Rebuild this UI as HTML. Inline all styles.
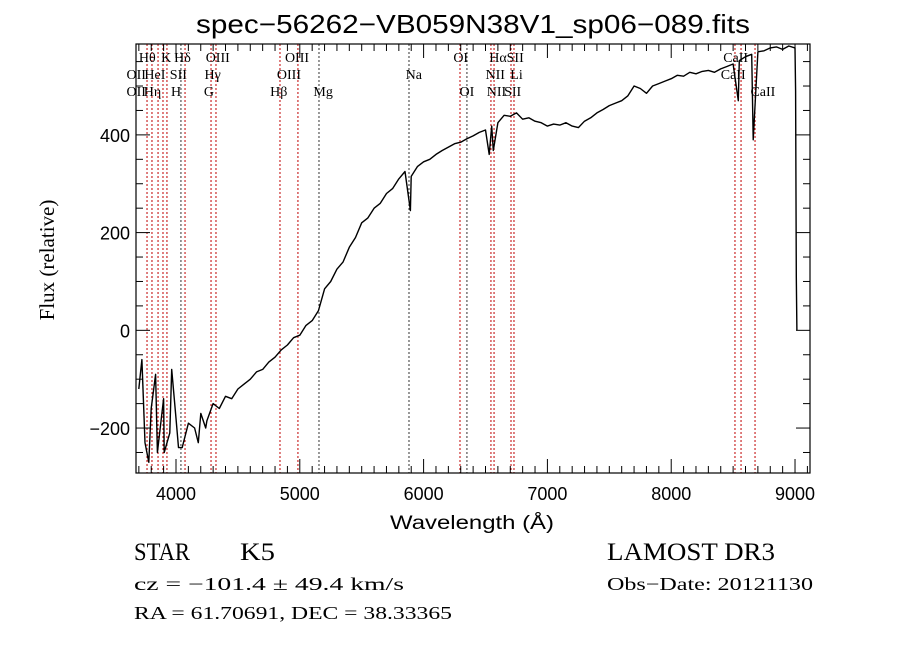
<!DOCTYPE html>
<html><head><meta charset="utf-8"><style>
html,body{margin:0;padding:0;background:#fff;}
svg{display:block;}
.t{font-family:"Liberation Sans",sans-serif;fill:#000;}
.s{font-family:"Liberation Serif",serif;fill:#000;}
</style></head><body>
<svg id="chart" width="900" height="649" viewBox="0 0 900 649" xmlns="http://www.w3.org/2000/svg">
<rect width="900" height="649" fill="#fff"/>
<text class="t" x="196" y="33" font-size="26" textLength="554" lengthAdjust="spacingAndGlyphs">spec−56262−VB059N38V1_sp06−089.fits</text>
<g id="lines"></g>
<g id="labels" class="s" font-size="14"></g>
<path id="spec" fill="none" stroke="#000" stroke-width="1.4" stroke-linejoin="round"/>
<g id="axes"></g>
<rect x="136" y="44" width="674" height="429" fill="none" stroke="#000" stroke-width="1.2"/>
<text class="t" x="390" y="529" font-size="19" textLength="164" lengthAdjust="spacingAndGlyphs">Wavelength (Å)</text>
<text class="s" x="54" y="260" font-size="21" text-anchor="middle" transform="rotate(-90 54 260)">Flux (relative)</text>
<text class="s" x="134" y="560" font-size="25" textLength="56" lengthAdjust="spacingAndGlyphs">STAR</text>
<text class="s" x="240" y="560" font-size="25" textLength="35" lengthAdjust="spacingAndGlyphs">K5</text>
<text class="s" x="607" y="560" font-size="25" textLength="168" lengthAdjust="spacingAndGlyphs">LAMOST DR3</text>
<text class="s" x="134" y="590" font-size="18" textLength="270" lengthAdjust="spacingAndGlyphs">cz = −101.4 ± 49.4 km/s</text>
<text class="s" x="607" y="590" font-size="18" textLength="206" lengthAdjust="spacingAndGlyphs">Obs−Date: 20121130</text>
<text class="s" x="134" y="619" font-size="18" textLength="318" lengthAdjust="spacingAndGlyphs">RA =  61.70691, DEC =  38.33365</text>
</svg>
<script>
const waveStart = 3700, waveStep = 50;
const flux = [-120,-230,-160,-250,-140,-210,-180,-240,-190,-200,
 -170,-185,-150,-160,-135,-140,-120,-110,-100,-85,-80,-65,-55,-40,-30,-15,-10,10,20,40,
 85,100,125,140,170,190,220,230,250,260,280,290,310,325,315,335,345,350,360,368,
 375,382,385,392,398,405,410,418,425,440,438,445,432,435,428,425,418,422,420,425,
 418,415,428,435,445,452,460,465,470,480,500,495,485,500,505,510,515,522,520,528,
 525,530,532,528,535,540,545,552,560,565,570,572,578,580,575,582,578];
const dipWaves = [3725,3780,3835,3905,3965,4020,4180,4240,5893,6530,6563,8542,8662,9005,9010,9015];
const dipFlux = [-60,-270,-90,-250,-80,-240,-230,-200,245,360,368,470,390,490,110,0];
const lineWaves = [3677,3766,3806,3855,3895,3927,4040,4073,4283,4323,4840,4985,5155,5882,6294,6350,6544,6569,6706,6730,8515,8564,8677];
const lineColors = ['r','r','r','r','r','r','k','r','r','r','r','r','k','k','r','k','r','r','r','r','r','r','r'];
const labelText = ['Hθ','K','Hδ','OIII','OIII','OI','HαSII','CaII','OII','HeI','SII','Hγ','OIII','Na','NII','Li','CaII','OII','Hη','H','G','Hβ','Mg','OI','NII','SII','CaII'];
const labelWave = [3700,3880,3985,4240,4880,6240,6530,8420,3600,3745,3950,4230,4815,5855,6500,6700,8400,3600,3740,3960,4225,4760,5110,6290,6510,6650,8640];
const labelRow = [1,1,1,1,1,1,1,1,2,2,2,2,2,2,2,2,2,3,3,3,3,3,3,3,3,3,3];
const xTicks = [4000,5000,6000,7000,8000,9000];
const yTicks = [-200,0,200,400];

const X0=136,X1=810,Y0=44,Y1=473,WMIN=3677,WMAX=9121,FMIN=-292,FMAX=586;
const xs = w => X0+(w-WMIN)/(WMAX-WMIN)*(X1-X0);
const ys = f => Y1-(f-FMIN)/(FMAX-FMIN)*(Y1-Y0);
const NS='http://www.w3.org/2000/svg';
function mk(tag,attrs,parent){const e=document.createElementNS(NS,tag);for(const k in attrs)e.setAttribute(k,attrs[k]);parent.appendChild(e);return e;}

let pts = flux.map((f,i)=>[waveStart+i*waveStep,f]);
dipWaves.forEach((w,i)=>pts.push([w,dipFlux[i]]));
pts.sort((a,b)=>a[0]-b[0]);
document.getElementById('spec').setAttribute('d',pts.map((p,i)=>(i?'L':'M')+xs(p[0]).toFixed(1)+' '+Math.max(Y0,Math.min(Y1,ys(p[1]))).toFixed(1)).join(''));

const lg=document.getElementById('lines');
lineWaves.forEach((w,i)=>{
 const l=mk('line',{x1:xs(w),x2:xs(w),y1:Y0,y2:Y1,stroke:lineColors[i]==='r'?'#c00000':'#333','stroke-width':1,'stroke-dasharray':'2,2'},lg);
 
 
});
const lb=document.getElementById('labels');
labelText.forEach((t,i)=>{
 const e=mk('text',{x:xs(labelWave[i]),y:45+labelRow[i]*17},lb);
 e.textContent=t;
 
 
});
const ax=document.getElementById('axes');
for(let w=3700;w<=9100;w+=100){
 const major=w%1000===0, len=major?14:7;
 mk('line',{x1:xs(w),x2:xs(w),y1:Y1,y2:Y1-len,stroke:'#000'},ax);
 mk('line',{x1:xs(w),x2:xs(w),y1:Y0,y2:Y0+len,stroke:'#000'},ax);
}
for(let f=-250;f<=550;f+=50){
 const major=f%200===0, len=major?14:7;
 mk('line',{x1:X0,x2:X0+len,y1:ys(f),y2:ys(f),stroke:'#000'},ax);
 mk('line',{x1:X1,x2:X1-len,y1:ys(f),y2:ys(f),stroke:'#000'},ax);
}
xTicks.forEach(v=>{
 const e=mk('text',{x:xs(v),y:Y1+27,'text-anchor':'middle','font-size':18,class:'t'},ax);
 e.textContent=v;
 
 
});
yTicks.forEach(v=>{
 const e=mk('text',{x:X0-6,y:ys(v)+7,'text-anchor':'end','font-size':18,class:'t'},ax);
 e.textContent=v<0?'−'+(-v):v;
 
 
});
</script>
</body></html>
